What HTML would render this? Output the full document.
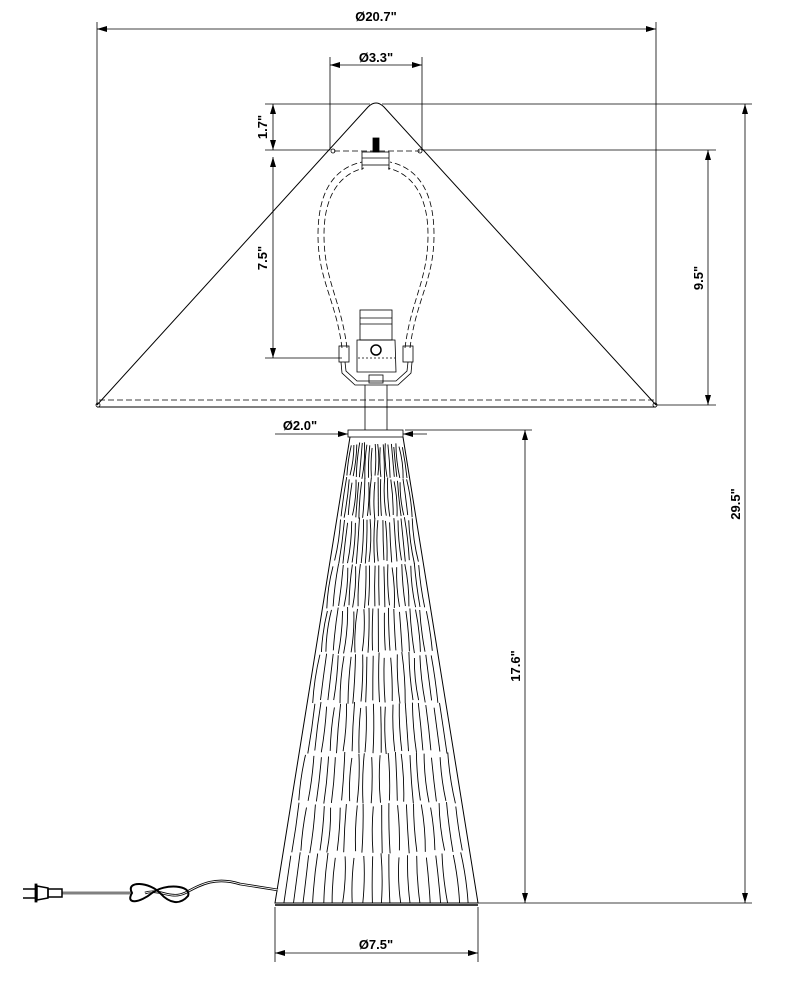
<!DOCTYPE html>
<html><head><meta charset="utf-8"><style>
html,body{margin:0;padding:0;background:#fff;}
svg{display:block}
text{font-family:"Liberation Sans",Arial,sans-serif;font-weight:bold;font-size:13px;fill:#000}
</style></head><body>
<svg id="s" width="786" height="982" viewBox="0 0 786 982" xmlns="http://www.w3.org/2000/svg">
<defs>
<marker id="a" viewBox="0 0 10 6" refX="10" refY="3" markerWidth="10" markerHeight="6" orient="auto-start-reverse" markerUnits="userSpaceOnUse"><path d="M0,0L10,3L0,6z" fill="#000"/></marker>
</defs>
<g stroke="#000" stroke-width="0.8" fill="none">
<line x1="97" y1="22" x2="97" y2="405"/>
<line x1="656" y1="22" x2="656" y2="405"/>
<line x1="330" y1="57" x2="330" y2="150"/>
<line x1="422" y1="57" x2="422" y2="150"/>
<line x1="265" y1="104" x2="370" y2="104"/>
<line x1="382" y1="104" x2="752" y2="104"/>
<line x1="265" y1="150" x2="330" y2="150"/>
<line x1="422" y1="150" x2="716" y2="150"/>
<line x1="265" y1="358" x2="342" y2="358"/>
<line x1="656" y1="405" x2="716" y2="405"/>
<line x1="405" y1="430" x2="532" y2="430"/>
<line x1="478" y1="903" x2="752" y2="903"/>
<line x1="275" y1="907" x2="275" y2="962"/>
<line x1="478" y1="907" x2="478" y2="962"/>
<line x1="97" y1="29" x2="656" y2="29" marker-start="url(#a)" marker-end="url(#a)"/>
<line x1="330" y1="65" x2="422" y2="65" marker-start="url(#a)" marker-end="url(#a)"/>
<line x1="273" y1="104" x2="273" y2="150" marker-start="url(#a)" marker-end="url(#a)"/>
<line x1="273" y1="157" x2="273" y2="358" marker-start="url(#a)" marker-end="url(#a)"/>
<line x1="708" y1="150" x2="708" y2="405" marker-start="url(#a)" marker-end="url(#a)"/>
<line x1="745" y1="104" x2="745" y2="903" marker-start="url(#a)" marker-end="url(#a)"/>
<line x1="525" y1="430" x2="525" y2="903" marker-start="url(#a)" marker-end="url(#a)"/>
<line x1="275" y1="953" x2="478" y2="953" marker-start="url(#a)" marker-end="url(#a)"/>
<line x1="275" y1="434" x2="348" y2="434" marker-end="url(#a)"/>
<line x1="427" y1="434" x2="403" y2="434" marker-end="url(#a)"/>
<path d="M97,405 L368,107 Q376,99 384,107 L656,405" stroke-width="1"/>
<line x1="97" y1="407" x2="656" y2="407" stroke-width="1"/>
<line x1="99" y1="400" x2="654" y2="400" stroke-dasharray="6,3"/>
<line x1="334" y1="151" x2="420" y2="151" stroke-dasharray="6,3"/>
<circle cx="333" cy="151" r="2"/><circle cx="420" cy="151" r="2"/>
<circle cx="98" cy="405" r="2"/><circle cx="655" cy="405" r="2"/>
<path d="M342,348 C336,300 318,280 318,235 C318,190 335,168 362,162" stroke-dasharray="6,3"/>
<path d="M347,348 C341,300 324,280 324,235 C324,195 340,174 364,168" stroke-dasharray="6,3"/>
<path d="M410,348 C416,300 434,280 434,235 C434,190 417,168 390,162" stroke-dasharray="6,3"/>
<path d="M405,348 C411,300 428,280 428,235 C428,195 412,174 388,168" stroke-dasharray="6,3"/>
<rect x="362" y="152" width="27" height="13"/>
<line x1="362" y1="158" x2="389" y2="158"/>
<rect x="373" y="138" width="6" height="14" fill="#000"/>
<line x1="362" y1="165" x2="362" y2="170"/><line x1="389" y1="165" x2="389" y2="170"/>
<rect x="360" y="310" width="32" height="30"/>
<line x1="360" y1="318" x2="392" y2="318"/><line x1="360" y1="324" x2="392" y2="324"/>
<path d="M357,340 L395,340 L396,372 L357,372 z"/>
<circle cx="376" cy="350" r="5" stroke-width="1.5"/>
<line x1="358" y1="358" x2="395" y2="358" stroke-dasharray="2,2"/>
<rect x="339" y="346" width="10" height="16"/>
<rect x="403" y="346" width="10" height="16"/>
<path d="M341,362 L342,373 L355,385 L398,385 L411,373 L412,362"/>
<path d="M345,362 L346,371 L357,381 L396,381 L407,371 L408,362"/>
<rect x="369" y="375" width="14" height="8"/>
<line x1="365" y1="385" x2="365" y2="430"/>
<line x1="387" y1="385" x2="387" y2="430"/>
<rect x="348" y="430" width="55" height="7"/>
<path d="M350,437 L275,903 L478,903 L403,437" stroke-width="1"/>
<line x1="275" y1="905" x2="478" y2="905" stroke-width="1.5"/>
<g id="tex" stroke-width="0.9"></g>
<path d="M62,893 L132,893 M145,893 C160,888 170,900 185,893 C200,885 215,876 240,884 L278,890" stroke-width="2.6"/>
<path d="M62,893 L132,893 M145,893 C160,888 170,900 185,893 C200,885 215,876 240,884 L278,890" stroke="#fff" stroke-width="0.9"/>
<path d="M132,893 C125,880 150,882 160,893 C170,904 180,905 188,896 C192,885 165,883 152,893 C140,903 125,905 132,893z" stroke-width="2"/>
<line x1="23" y1="889" x2="35" y2="889" stroke-width="1.5"/>
<line x1="23" y1="898" x2="35" y2="898" stroke-width="1.5"/>
<rect x="35" y="884" width="2" height="18" fill="#000"/>
<path d="M37,886 L48,888 L48,898 L37,900z" stroke-width="1.5"/>
<rect x="48" y="889" width="14" height="8" stroke-width="1.5"/>
</g>
<text x="376" y="21" text-anchor="middle">Ø20.7"</text>
<text x="376" y="62" text-anchor="middle">Ø3.3"</text>
<text x="300" y="430" text-anchor="middle">Ø2.0"</text>
<text x="376" y="949" text-anchor="middle">Ø7.5"</text>
<text transform="translate(267,127) rotate(-90)" text-anchor="middle">1.7"</text>
<text transform="translate(267,258) rotate(-90)" text-anchor="middle">7.5"</text>
<text transform="translate(703,278) rotate(-90)" text-anchor="middle">9.5"</text>
<text transform="translate(740,504) rotate(-90)" text-anchor="middle">29.5"</text>
<text transform="translate(520,666) rotate(-90)" text-anchor="middle">17.6"</text>
</svg>
<script>
(function(){
var g=document.getElementById('tex'),s='';
var seed=7;function r(){seed=(seed*9301+49297)%233280;return seed/233280;}
var bands=[440,475,515,560,605,650,700,750,800,850,903];
var N=21;
for(var b=0;b<bands.length-1;b++){
 var y0=bands[b],y1=bands[b+1];
 for(var i=1;i<N;i++){
  var t=(i+0.4*(r()-0.5))/N;
  function xa(y){var f=(y-437)/466;var L=350-75*f,R=403+75*f;return L+(R-L)*t;}
  var ya=y0+2+r()*6,yb=y1+r()*4;if(yb>903)yb=903;
  var xm=(xa(ya)+xa(yb))/2+(r()-0.5)*5;
  s+='<path d="M'+xa(ya).toFixed(1)+','+ya.toFixed(1)+' Q'+xm.toFixed(1)+','+((ya+yb)/2).toFixed(1)+' '+xa(yb).toFixed(1)+','+yb.toFixed(1)+'"/>';
 }
}
g.innerHTML=s;
})();
</script>
</body></html>
